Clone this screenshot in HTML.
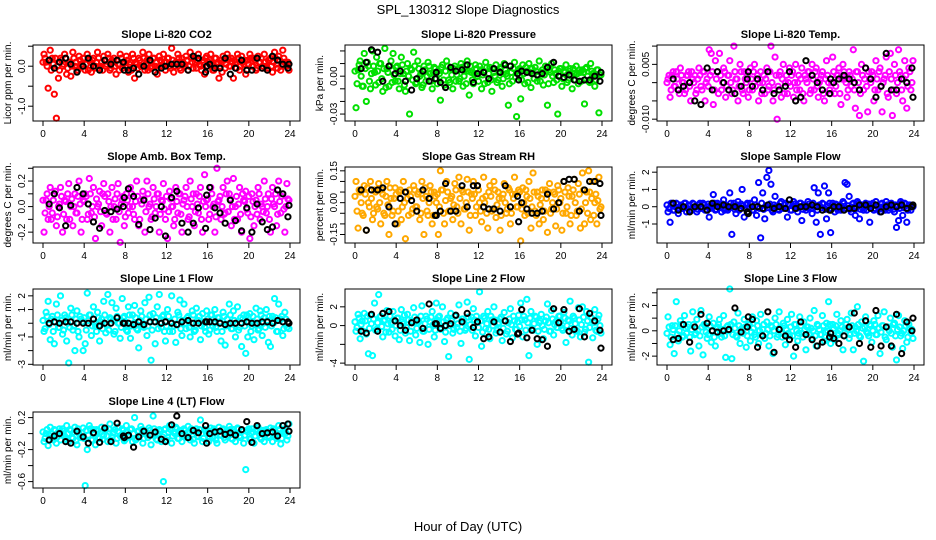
<!DOCTYPE html>
<html><head><meta charset="utf-8"><style>
body{margin:0;background:#fff}
svg{display:block;font-family:"Liberation Sans",sans-serif}
</style></head><body>
<svg id="chart" width="936" height="540" viewBox="0 0 936 540" xmlns="http://www.w3.org/2000/svg">
<rect width="936" height="540" fill="#fff"/>
<text x="468" y="14" text-anchor="middle" font-size="13">SPL_130312  Slope Diagnostics</text>
<text x="468" y="531" text-anchor="middle" font-size="13">Hour of Day (UTC)</text>
</svg>
<script>
const hoursC=[0.1,0.3,0.5,0.7,0.9,1.1,1.3,1.5,1.7,1.9,2.1,2.3,2.5,2.7,2.9,3.1,3.3,3.5,3.7,3.9,4.1,4.3,4.5,4.7,4.9,5.1,5.3,5.5,5.7,5.9,6.1,6.3,6.5,6.7,6.9,7.1,7.3,7.5,7.7,7.9,8.1,8.3,8.5,8.7,8.9,9.1,9.3,9.5,9.7,9.9,10.1,10.3,10.5,10.7,10.9,11.1,11.3,11.5,11.7,11.9,12.1,12.3,12.5,12.7,12.9,13.1,13.3,13.5,13.7,13.9,14.1,14.3,14.5,14.7,14.9,15.1,15.3,15.5,15.7,15.9,16.1,16.3,16.5,16.7,16.9,17.1,17.3,17.5,17.7,17.9,18.1,18.3,18.5,18.7,18.9,19.1,19.3,19.5,19.7,19.9,20.1,20.3,20.5,20.7,20.9,21.1,21.3,21.5,21.7,21.9,22.1,22.3,22.5,22.7,22.9,23.1,23.3,23.5,23.7,23.9];
const hoursC2=[0.0,0.2,0.4,0.6,0.8,1.0,1.2,1.4,1.6,1.8,2.0,2.2,2.4,2.6,2.8,3.0,3.2,3.4,3.6,3.8,4.0,4.2,4.4,4.6,4.8,5.0,5.2,5.4,5.6,5.8,6.0,6.2,6.4,6.6,6.8,7.0,7.2,7.4,7.6,7.8,8.0,8.2,8.4,8.6,8.8,9.0,9.2,9.4,9.6,9.8,10.0,10.2,10.4,10.6,10.8,11.0,11.2,11.4,11.6,11.8,12.0,12.2,12.4,12.6,12.8,13.0,13.2,13.4,13.6,13.8,14.0,14.2,14.4,14.6,14.8,15.0,15.2,15.4,15.6,15.8,16.0,16.2,16.4,16.6,16.8,17.0,17.2,17.4,17.6,17.8,18.0,18.2,18.4,18.6,18.8,19.0,19.2,19.4,19.6,19.8,20.0,20.2,20.4,20.6,20.8,21.0,21.2,21.4,21.6,21.8,22.0,22.2,22.4,22.6,22.8,23.0,23.2,23.4,23.6,23.8];
const hoursK=[0.6,1.1,1.6,2.2,2.7,3.3,3.9,4.4,4.9,5.5,6.0,6.6,7.2,7.8,8.3,8.8,9.3,9.8,10.4,10.9,11.5,11.9,12.5,13.0,13.5,14.1,14.6,15.1,15.8,16.2,16.7,17.2,17.7,18.2,18.7,19.3,19.8,20.3,20.8,21.3,21.8,22.3,22.8,23.3,23.8,23.9,7.9,15.9];
const xTicks=[0,4,8,12,16,20,24];

const co2C=[0.3,0.1,-0.55,0.4,0.2,-0.7,-1.3,-0.3,0.2,0.0, 0.3,-0.2,0.1,-0.25,0.35,0.0,-0.1,0.25,0.05,0.2, -0.1,0.3,0.15,-0.15,0.2,0.0,0.35,-0.05,0.1,0.25, 0.0,0.3,-0.1,0.15,0.2,-0.2,0.05,0.3,-0.05,0.1, 0.25,-0.15,0.1,0.3,-0.3,0.05,0.2,0.0,0.35,-0.1, 0.15,0.3,-0.05,0.2,0.0,-0.2,0.25,0.1,0.3,-0.1, 0.2,0.0,0.45,-0.15,0.1,0.3,-0.05,0.2,0.05,0.25, -0.1,0.35,0.1,0.2,-0.05,0.3,0.0,0.15,-0.2,0.25, 0.1,0.3,-0.1,0.2,0.05,-0.3,0.15,0.25,-0.05,0.3, 0.0,0.2,-0.3,0.1,0.3,-0.1,0.25,0.05,-0.2,0.15, 0.3,0.0,0.2,-0.1,0.25,0.1,-0.05,0.3,0.0,0.15, 0.2,-0.15,0.35,0.05,0.25,-0.1,0.4,0.1,0.0,-0.1];
const co2C2=[0.1,0.2,0.0,0.15,-0.1,0.05,0.2,0.0,-0.1,0.15, 0.05,0.2,-0.05,0.1,0.0,0.2,0.1,-0.1,0.15,0.0, 0.2,0.05,-0.1,0.1,0.15,-0.05,0.1,0.2,0.0,-0.1, 0.15,0.05,0.2,-0.05,0.1,0.0,0.15,-0.1,0.2,0.05, 0.0,0.15,0.05,-0.1,0.2,0.1,-0.05,0.15,0.0,0.2, 0.05,-0.1,0.15,0.0,0.2,0.1,-0.05,0.15,0.0,0.1, 0.1,0.2,-0.05,0.15,0.0,0.1,0.2,-0.1,0.1,0.0, 0.15,0.0,0.2,-0.05,0.1,0.15,0.05,-0.1,0.1,0.2, 0.0,0.15,0.05,-0.1,0.2,0.1,0.0,-0.15,0.15,0.05, 0.2,0.0,0.1,0.15,-0.05,0.2,0.0,0.1,0.15,-0.1, 0.05,0.2,0.0,0.15,-0.05,0.1,0.2,0.0,0.1,-0.05, 0.15,0.0,0.1,0.2,-0.05,0.15,0.0,0.2,0.05,0.1];
const co2K=[0.15,-0.05,0.1,0.2,0.05,-0.15,0.0,0.2,0.0,-0.1,0.15,0.05,0.15,0.1,-0.1,-0.05,-0.2,0.0,0.15,-0.15,-0.05,0.0,0.05,0.05,0.05,-0.1,0.25,0.2,-0.15,0.05,-0.05,-0.05,0.2,-0.2,-0.05,0.15,-0.1,-0.1,0.2,-0.05,-0.1,0.25,0.15,0.05,-0.05,0.05,-0.1,0.0];
const presC=[-0.025,0.005,0.012,-0.008,0.018,-0.02,0.008,-0.01,0.02,0.003, 0.015,-0.005,0.01,-0.012,0.022,0.006,-0.008,0.012,0.018,-0.004, 0.008,-0.01,0.015,0.002,-0.012,0.01,-0.03,0.005,0.019,-0.006, 0.012,0.0,-0.009,0.008,-0.004,0.011,0.002,-0.01,0.007,-0.002, 0.004,-0.019,0.009,-0.007,0.012,-0.003,0.006,-0.01,0.008,0.001, -0.004,0.01,-0.008,0.005,0.012,-0.015,0.003,-0.006,0.009,0.0, 0.008,-0.01,0.004,0.011,-0.005,0.007,-0.012,0.003,0.009,-0.003, 0.006,-0.008,0.01,0.002,-0.023,0.008,-0.004,0.011,-0.032,0.005, -0.018,0.009,-0.006,0.004,0.01,-0.009,0.002,0.007,-0.004,0.012, 0.003,-0.007,0.008,-0.023,0.005,0.01,-0.005,0.002,-0.03,0.006, -0.008,0.004,0.009,-0.003,0.006,-0.01,0.002,0.008,-0.006,0.003, 0.005,-0.022,0.007,-0.004,0.01,0.002,-0.008,0.005,-0.029,0.001];
const presC2=[0.004,-0.006,0.009,0.0,-0.008,0.006,0.011,-0.004,0.002,0.008, -0.007,0.004,0.01,-0.002,0.006,-0.009,0.003,0.008,-0.005,0.001, 0.007,-0.004,0.002,0.009,-0.007,0.004,0.0,0.006,-0.003,0.008, -0.005,0.006,0.002,-0.007,0.005,0.0,0.008,-0.004,0.003,0.006, -0.006,0.002,0.007,-0.003,0.004,0.008,-0.005,0.001,0.006,-0.004, 0.005,-0.002,0.007,0.0,-0.006,0.004,0.008,-0.003,0.002,0.006, -0.004,0.005,0.001,-0.006,0.007,0.002,-0.003,0.006,0.0,-0.005, 0.004,0.007,-0.002,0.005,0.0,-0.006,0.003,0.006,-0.001,0.004, 0.006,-0.003,0.002,0.007,-0.005,0.003,0.006,-0.002,0.004,0.0, -0.004,0.005,0.001,0.006,-0.006,0.003,0.0,0.005,-0.003,0.004, 0.006,-0.002,0.003,-0.005,0.004,0.001,0.006,-0.003,0.002,0.005, -0.004,0.003,0.006,0.0,-0.005,0.004,0.002,-0.003,0.005,0.001];
const presK=[0.006,0.011,0.021,0.019,-0.004,0.008,0.002,0.004,-0.004,-0.011,-0.002,0.004,-0.004,-0.002,-0.005,-0.009,0.007,0.004,0.005,0.009,-0.005,0.002,0.003,-0.002,0.006,0.003,0.009,0.008,0.002,0.004,0.003,0.002,0.001,0.002,0.007,0.011,0.0,-0.001,0.001,-0.003,-0.004,-0.003,-0.003,0.0,-0.004,0.003,0.003,-0.003];
const tempC=[0.001,-0.004,0.002,-0.001,0.003,-0.002,0.004,0.0,-0.003,0.002, 0.003,-0.005,0.001,0.002,-0.002,0.004,-0.001,0.003,-0.005,0.001, 0.009,0.008,-0.006,0.006,0.003,0.008,-0.002,0.004,-0.004,0.002, 0.006,-0.003,0.01,0.001,-0.005,0.005,-0.002,0.003,0.0,-0.004, 0.004,-0.002,0.005,0.001,-0.005,0.003,0.0,-0.003,0.004,-0.001, 0.01,-0.005,0.007,-0.01,0.002,-0.004,0.005,0.0,-0.003,0.004, 0.002,-0.004,0.005,0.0,-0.002,0.004,-0.005,0.001,0.003,-0.003, 0.005,-0.002,0.004,-0.004,0.001,0.003,-0.005,0.006,0.0,-0.003, 0.007,-0.003,0.002,0.004,-0.006,0.005,0.001,-0.004,0.003,-0.001, 0.009,-0.007,0.003,-0.009,0.005,-0.002,0.004,-0.008,0.001,0.003, -0.005,0.006,-0.002,0.004,-0.008,0.001,0.007,-0.004,0.008,-0.009, 0.005,-0.003,0.009,0.002,-0.005,0.006,-0.007,0.004,-0.002,0.006];
const tempC2=[0.0,0.002,-0.002,0.003,-0.001,0.001,-0.003,0.002,0.0,-0.002, 0.002,-0.001,0.003,0.0,-0.003,0.001,0.002,-0.002,0.003,0.0, -0.001,0.002,0.003,-0.002,0.001,-0.003,0.002,0.0,0.003,-0.001, 0.002,0.0,-0.002,0.003,0.001,-0.001,0.003,-0.003,0.001,0.002, -0.002,0.001,0.003,-0.001,0.002,0.0,-0.003,0.002,0.001,-0.002, 0.003,0.0,-0.002,0.002,-0.001,0.003,0.001,-0.003,0.002,0.0, -0.001,0.003,0.0,-0.002,0.002,0.001,-0.003,0.002,0.0,0.003, -0.002,0.001,0.003,-0.001,0.0,0.002,-0.003,0.001,0.002,-0.002, 0.0,0.003,-0.001,0.002,-0.003,0.001,0.003,0.0,-0.002,0.002, 0.001,-0.002,0.003,0.0,-0.003,0.002,0.001,-0.001,0.003,0.0, 0.002,-0.002,0.001,0.003,-0.001,0.0,0.002,-0.003,0.003,0.001, -0.002,0.002,0.0,0.003,-0.002,0.001,0.002,-0.001,0.003,0.0];
const tempK=[0.001,-0.002,-0.001,0.0,-0.005,-0.006,0.004,-0.002,0.003,0.0,-0.002,-0.003,-0.001,0.001,-0.001,0.001,-0.002,0.003,-0.003,-0.002,-0.001,0.003,-0.005,-0.004,0.006,0.002,0.0,-0.002,-0.003,0.0,0.001,0.002,0.001,0.0,-0.002,0.004,0.001,-0.004,-0.001,0.008,-0.002,-0.002,0.001,0.0,0.004,-0.004,0.003,0.001];
const ambC=[-0.2,0.05,-0.1,0.15,-0.05,0.1,-0.15,0.0,0.15,-0.2, 0.05,-0.1,0.18,0.0,-0.15,0.1,-0.05,0.2,-0.2,0.05, 0.1,-0.1,0.22,-0.05,0.15,-0.25,0.0,0.12,-0.15,0.18, -0.05,0.1,-0.2,0.15,0.0,-0.1,0.18,-0.28,0.05,-0.15, 0.1,-0.05,0.15,0.0,-0.1,0.2,-0.15,0.05,0.12,-0.2, 0.2,0.0,-0.1,0.15,-0.05,0.1,-0.2,0.05,0.18,-0.1, -0.25,0.12,0.0,-0.15,0.15,-0.05,0.1,-0.2,0.05,0.15, -0.1,0.2,0.0,-0.15,0.1,-0.05,0.15,-0.2,0.25,0.05, -0.1,0.15,0.0,-0.2,0.3,0.05,-0.1,0.15,-0.05,0.2, 0.1,-0.15,0.22,0.0,-0.1,0.15,-0.2,0.05,0.12,-0.05, -0.25,0.1,-0.15,0.05,0.15,-0.1,0.0,0.2,-0.05,0.1, -0.2,0.15,0.0,-0.15,0.2,-0.05,0.1,-0.2,0.18,0.05];
const ambC2=[0.05,-0.05,0.1,0.0,-0.1,0.05,0.12,-0.08,0.02,0.08, -0.06,0.04,0.1,-0.1,0.06,0.0,-0.05,0.08,0.02,-0.1, 0.04,0.08,-0.06,0.1,0.0,-0.08,0.06,0.02,-0.04,0.1, 0.08,-0.06,0.04,0.0,-0.1,0.06,0.1,-0.04,0.02,0.08, -0.08,0.05,0.0,0.1,-0.06,0.04,0.08,-0.1,0.02,0.06, -0.04,0.1,0.02,-0.08,0.06,0.0,0.1,-0.06,0.04,-0.02, 0.08,-0.04,0.06,0.0,-0.1,0.04,0.1,-0.06,0.02,0.08, 0.0,-0.08,0.06,0.1,-0.04,0.02,0.08,-0.1,0.04,0.0, 0.06,-0.06,0.1,0.02,-0.08,0.04,0.08,0.0,-0.06,0.1, -0.04,0.06,0.0,-0.1,0.08,0.02,-0.06,0.1,0.04,-0.02, 0.08,-0.08,0.04,0.0,-0.06,0.1,0.02,-0.04,0.06,0.0, -0.1,0.06,0.02,0.1,-0.06,0.04,0.08,-0.02,0.0,0.06];
const ambK=[0.02,0.1,-0.01,-0.15,0.01,0.15,0.1,0.02,-0.12,-0.17,-0.03,-0.04,-0.02,0.0,0.14,0.08,-0.14,0.05,-0.18,-0.09,0.0,-0.23,0.07,0.12,-0.13,-0.2,-0.13,-0.01,-0.17,0.15,-0.01,-0.05,-0.13,0.05,-0.11,-0.19,-0.01,-0.2,0.02,-0.12,-0.18,-0.16,0.13,0.1,-0.08,0.01,0.07,0.09];
const rhC=[0.1,-0.12,0.05,-0.05,0.08,-0.13,0.0,0.1,-0.08,0.06, -0.02,0.09,-0.1,0.04,-0.06,0.1,-0.15,0.02,-0.04,0.07, -0.1,0.05,-0.08,0.1,-0.17,0.02,0.06,-0.05,0.08,-0.02, 0.04,-0.08,0.1,-0.15,0.03,-0.06,0.08,-0.1,0.05,0.0, -0.15,0.15,0.06,-0.1,0.1,-0.04,0.02,-0.08,0.09,-0.02, 0.12,-0.1,0.05,-0.03,0.11,-0.13,0.04,0.1,-0.06,0.08, 0.0,-0.09,0.12,0.03,-0.12,0.08,-0.04,0.1,-0.07,0.05, -0.13,0.02,0.09,-0.05,0.07,-0.1,0.04,0.12,-0.02,0.06, -0.18,0.07,-0.06,0.03,0.1,-0.12,0.14,-0.04,0.05,-0.1, 0.02,-0.08,0.06,-0.14,0.09,-0.03,0.05,-0.11,0.08,0.0, -0.13,0.1,-0.05,0.07,-0.1,0.03,0.11,-0.06,0.09,-0.12, 0.14,-0.1,0.05,0.15,-0.08,0.1,0.0,-0.1,0.12,-0.02];
const rhC2=[0.03,-0.04,0.06,0.0,-0.06,0.04,0.07,-0.02,0.02,-0.05, 0.05,-0.03,0.0,0.06,-0.05,0.03,-0.01,0.07,-0.06,0.02, 0.04,-0.04,0.06,-0.02,0.0,0.05,-0.06,0.03,-0.03,0.06, -0.02,0.05,-0.05,0.02,0.07,-0.04,0.0,0.05,-0.06,0.03, 0.04,-0.02,0.06,-0.05,0.01,0.05,-0.04,0.03,-0.01,0.06, -0.05,0.02,0.06,-0.03,0.0,0.05,-0.06,0.02,0.04,-0.02, 0.06,-0.04,0.02,0.0,-0.05,0.05,0.03,-0.03,0.06,-0.01, 0.02,-0.06,0.04,0.0,-0.03,0.06,-0.05,0.02,0.04,-0.02, 0.05,-0.03,0.0,0.06,-0.05,0.02,-0.02,0.05,-0.06,0.03, -0.01,0.06,-0.04,0.02,0.05,-0.05,0.0,0.04,-0.03,0.06, 0.02,-0.05,0.05,-0.02,0.03,-0.06,0.06,0.0,-0.04,0.04, -0.03,0.06,0.0,-0.05,0.05,0.02,-0.06,0.04,0.01,-0.03];
const rhK=[0.06,-0.13,0.06,0.06,0.07,-0.02,-0.1,0.02,0.05,0.01,-0.04,0.06,0.02,-0.06,-0.04,0.09,-0.04,-0.04,0.08,-0.02,0.08,0.08,-0.02,-0.03,-0.03,-0.04,0.08,-0.02,0.03,0.0,-0.03,-0.05,-0.05,-0.04,0.04,-0.03,0.0,0.1,0.11,0.11,-0.04,0.06,0.1,0.1,0.09,-0.06,-0.06,-0.09];
const sfC=[-0.3,-0.9,0.1,-0.2,0.2,-0.4,0.0,-0.1,0.2,-0.3, 0.1,-0.2,0.2,0.0,-0.3,0.1,-0.1,0.2,-0.2,0.0, -0.6,0.1,0.7,-0.2,0.2,0.0,-0.3,0.4,0.1,-0.2, 0.8,-1.6,0.2,-0.4,0.3,-0.1,1.0,-0.6,0.1,-0.3, 0.2,-0.2,0.4,-0.5,1.4,-1.8,0.8,-0.7,1.7,2.1, 1.3,-0.3,0.6,0.0,-0.2,0.3,-0.1,0.2,-0.6,0.1, -0.2,0.3,0.0,-0.3,0.2,-0.8,0.1,-0.2,0.3,0.0, -0.4,1.1,-0.9,0.8,-1.6,0.2,1.2,-0.7,0.8,-1.5, 0.2,-0.3,0.1,0.0,-0.2,0.3,1.4,1.3,0.6,-0.3, 0.2,-0.5,0.3,-0.7,0.1,-0.2,0.2,0.0,-0.9,0.1, -0.2,0.3,0.0,-0.3,0.2,-0.1,0.3,-0.2,0.1,0.0, -0.3,-1.2,-0.8,0.3,-0.5,0.2,-0.9,0.1,-0.2,0.0];
const sfC2=[0.1,-0.1,0.2,-0.2,0.0,0.15,-0.15,0.1,-0.05,0.2, -0.1,0.05,-0.2,0.15,0.0,-0.15,0.2,-0.05,0.1,-0.2, 0.15,-0.1,0.0,0.2,-0.15,0.1,-0.05,0.15,-0.2,0.05, -0.1,0.2,0.0,-0.15,0.1,-0.2,0.15,0.05,-0.1,0.2, -0.05,0.15,-0.2,0.1,0.0,-0.1,0.2,-0.15,0.05,-0.05, 0.15,-0.2,0.1,0.0,-0.15,0.2,-0.05,0.1,-0.1,0.15, -0.2,0.05,0.15,-0.1,0.0,0.2,-0.15,0.1,-0.05,0.15, -0.1,0.2,0.0,-0.2,0.1,-0.05,0.15,-0.15,0.05,0.2, -0.1,0.0,0.15,-0.2,0.1,-0.05,0.2,-0.1,0.05,-0.15, 0.15,0.0,-0.1,0.2,-0.15,0.05,0.1,-0.2,0.15,-0.05, 0.2,-0.1,0.05,-0.15,0.15,0.0,-0.2,0.1,-0.05,0.2, -0.15,0.1,0.0,-0.1,0.2,-0.05,0.15,-0.2,0.1,0.05];
const sfK=[0.2,-0.2,0.0,-0.3,0.0,0.0,-0.2,0.2,0.0,0.1,0.0,0.0,-0.1,-0.3,0.0,0.0,-0.1,0.1,-0.1,0.0,-0.1,0.4,-0.1,0.0,0.0,0.1,0.0,-0.2,-0.2,0.0,0.0,-0.2,-0.1,-0.1,0.1,0.1,-0.1,0.1,-0.3,0.0,0.1,0.0,0.1,-0.1,0.0,0.1,-0.4,-0.2];
const l1C=[-0.6,0.8,1.6,-1.2,0.5,-1.5,1.4,-0.3,2.0,-0.8, 0.6,-1.3,-2.9,1.1,-0.5,-2.0,0.9,-1.0,0.3,-2.0, -1.5,2.2,0.6,-0.9,1.2,-0.2,0.8,-1.3,0.3,1.6, -0.7,2.1,0.4,1.5,-0.8,1.1,0.0,-1.1,1.8,0.5, -0.5,1.2,-1.1,0.6,1.3,-0.4,-1.8,0.9,-0.2,1.5, -0.9,1.9,-2.7,0.7,-1.5,1.2,2.1,-0.3,0.6,-1.3, 1.0,-0.6,2.0,-0.2,-1.4,0.8,1.7,-0.9,1.4,-0.4, 0.5,-1.0,0.9,-0.6,1.1,0.2,-1.2,0.7,-0.3,0.9, -0.8,0.6,-0.2,1.0,-0.6,0.4,-1.3,0.8,-1.6,0.3, 1.4,-0.4,0.9,-1.0,1.2,-0.3,-1.7,0.6,-2.2,-1.0, 0.7,-0.2,-1.2,1.1,-0.5,0.9,-0.9,0.4,1.0,-1.4, -1.7,0.5,1.8,-0.6,1.4,0.3,-0.9,0.8,-0.3,-0.4];
const l1C2=[0.2,-0.4,0.5,-0.1,0.3,-0.6,0.1,0.6,-0.3,0.2, -0.5,0.4,0.0,-0.3,0.6,-0.2,0.3,-0.6,0.5,0.1, 0.4,-0.5,0.2,0.6,-0.2,0.0,-0.6,0.4,0.1,-0.4, 0.6,-0.1,-0.5,0.3,0.2,-0.6,0.5,0.0,-0.3,0.4, 0.1,-0.6,0.6,-0.2,0.0,0.4,-0.5,0.2,0.5,-0.3, 0.3,-0.2,0.6,-0.5,0.1,0.4,-0.4,0.0,0.5,-0.6, -0.2,0.5,0.1,-0.6,0.3,-0.1,0.6,-0.4,0.2,0.0, 0.4,-0.3,0.0,0.6,-0.5,0.2,0.5,-0.2,0.1,-0.6, 0.3,-0.5,0.6,0.0,-0.3,0.4,0.1,-0.6,0.5,-0.2, -0.1,0.6,-0.4,0.2,0.0,-0.5,0.4,0.3,-0.2,0.6, 0.1,-0.6,0.5,-0.1,0.3,-0.4,0.6,0.0,-0.3,0.2, 0.5,-0.2,0.0,0.4,-0.6,0.2,0.5,-0.4,0.3,0.0];
const l1K=[0.0,0.1,0.0,0.1,0.1,0.0,0.0,0.0,0.3,-0.2,0.0,0.0,0.4,0.0,0.0,-0.1,0.1,-0.1,0.1,0.1,0.0,0.1,0.0,-0.1,0.1,0.2,0.0,0.0,0.1,0.1,0.1,0.0,-0.1,0.0,0.0,0.0,0.1,0.0,0.0,0.1,0.1,0.0,0.2,0.1,0.1,0.0,0.0,0.1];
const l2C=[-0.6,1.2,-1.4,0.5,1.3,-0.9,-3.0,1.1,-3.2,2.4, -0.4,3.3,1.0,-1.2,0.6,1.6,-0.7,0.3,1.5,-1.1, 0.8,-1.5,1.7,0.2,-0.8,1.2,-1.6,0.5,1.9,-1.0, 0.3,-1.8,2.1,-0.6,1.0,-2.0,0.4,1.5,-1.2,2.4, 0.9,-0.4,2.0,-1.7,0.6,-3.3,1.3,-0.8,1.0,-0.2, 2.2,-1.9,0.7,-0.5,2.5,-3.6,0.9,1.8,-1.1,0.4, 3.6,-2.2,1.0,-0.3,1.5,-1.4,0.6,2.0,-0.8,0.2, 0.7,-1.6,1.4,-0.9,0.3,1.8,-1.3,0.5,-0.4,1.1, 2.4,-1.2,0.6,2.8,-3.2,1.5,-0.5,1.0,-2.0,0.3, 1.2,-1.4,0.5,2.3,-0.6,1.6,-1.0,0.4,-0.2,1.0, -0.3,1.4,-1.8,0.6,2.6,-1.0,0.8,-0.5,1.9,-1.2, 2.0,-0.7,1.5,-3.9,0.9,-1.3,1.7,-0.6,1.1,-0.8];
const l2C2=[0.4,-0.2,0.8,0.1,-0.6,0.5,1.0,-0.3,0.2,0.7, -0.5,0.3,0.9,-0.1,0.5,-0.7,0.2,1.0,-0.4,0.6, 0.0,0.8,-0.5,0.4,1.1,-0.2,0.6,-0.6,0.3,0.9, -0.3,0.5,1.0,-0.6,0.2,0.7,-0.4,0.9,0.1,-0.5, 0.6,1.0,-0.2,0.4,-0.7,0.8,0.0,0.5,-0.4,1.1, 0.2,-0.6,0.7,0.3,-0.3,0.9,0.1,-0.5,0.6,1.0, -0.2,0.5,-0.7,0.8,0.2,-0.4,1.0,0.0,0.6,-0.5, 0.3,0.9,-0.3,0.5,-0.6,0.7,0.1,1.0,-0.4,0.4, -0.1,0.6,1.0,-0.5,0.3,0.8,-0.3,0.2,0.9,-0.6, 0.5,0.0,-0.4,0.9,0.3,-0.6,0.7,0.1,-0.2,1.0, 0.4,-0.5,0.8,0.0,0.5,-0.3,1.0,0.2,-0.6,0.6, 0.1,0.9,-0.4,0.5,-0.2,0.8,0.3,-0.5,0.7,0.0];
const l2K=[-0.6,-0.8,1.2,-0.6,1.3,1.5,0.5,0.0,-0.5,0.3,0.6,-0.3,2.3,0.2,-0.3,0.0,0.2,1.1,0.4,1.3,-0.2,0.4,-1.4,-1.2,0.4,-0.7,0.5,-1.7,-0.9,1.7,-1.3,-0.5,-1.4,-1.5,-2.2,1.8,0.3,1.7,-0.6,-0.4,1.8,-1.2,1.3,0.5,-0.5,-2.4,0.2,-0.8];
const l3C=[1.1,-1.1,0.4,-1.8,2.3,-0.8,0.8,-0.5,1.2,-0.2, 0.5,-1.6,1.5,-0.3,0.9,-1.2,1.6,-1.9,0.4,-0.6, 1.1,-0.9,0.6,-1.2,0.3,0.9,-0.5,1.2,-2.1,0.4, 3.3,-2.2,0.7,-0.4,1.4,-1.0,0.2,0.9,-1.3,0.5, -0.8,1.1,-0.3,0.8,-1.0,1.3,0.1,-0.6,0.7,-1.2, 0.4,-1.8,1.0,-0.5,1.5,-0.2,0.6,-1.1,0.9,-0.4, 1.3,-2.0,0.5,-0.8,1.1,-0.2,0.7,-1.5,0.3,1.0, -0.6,1.6,-1.2,0.4,-0.3,1.2,-0.8,0.6,2.3,-1.0, 0.5,-0.7,1.3,-0.3,0.8,-1.5,0.2,0.9,-0.6,1.4, -1.5,0.3,1.9,-0.4,0.7,-2.4,1.1,-0.2,0.5,-0.9, 0.8,-0.3,1.2,-1.8,0.4,1.5,-0.7,0.3,1.0,-1.3, 0.6,-2.3,1.2,-0.4,-1.4,0.8,-0.9,0.5,-0.2,-0.6];
const l3C2=[-0.2,0.3,-0.5,0.1,0.4,-0.3,0.0,0.5,-0.4,0.2, 0.3,-0.5,0.1,0.5,-0.2,0.0,-0.4,0.3,0.5,-0.1, -0.3,0.4,0.0,-0.5,0.2,0.5,-0.2,0.1,-0.4,0.3, 0.0,0.5,-0.3,0.2,-0.5,0.4,0.1,-0.2,0.3,-0.4, 0.5,-0.1,0.2,-0.5,0.4,0.0,-0.3,0.5,-0.2,0.1, -0.4,0.3,0.0,0.5,-0.3,0.2,-0.5,0.4,0.1,-0.2, 0.3,-0.4,0.5,0.0,-0.2,0.4,-0.5,0.1,0.3,-0.3, 0.2,0.0,-0.4,0.5,0.1,-0.3,0.4,-0.1,0.0,0.5, -0.5,0.2,0.4,-0.2,0.0,0.3,-0.4,0.5,0.1,-0.3, 0.4,-0.2,0.0,0.5,-0.5,0.2,0.3,-0.1,-0.4,0.4, 0.0,0.5,-0.3,0.2,-0.1,0.4,-0.5,0.3,0.0,-0.2, 0.5,-0.4,0.1,0.3,-0.2,0.0,0.4,-0.5,0.2,0.1];
const l3K=[-0.7,-0.6,0.5,-0.9,0.3,1.3,0.6,0.0,-0.1,0.0,0.1,1.8,-0.1,0.3,0.9,-1.3,-0.4,1.5,-1.7,0.1,-0.4,-0.7,-1.3,0.7,-0.3,-0.7,-1.2,-0.9,-0.5,-0.6,-1.0,-0.4,0.3,1.4,-1.0,0.8,-1.3,1.6,-1.2,0.3,-1.2,1.3,-1.8,0.7,0.0,1.0,1.1,-0.2];
const l4C=[-0.1,0.0,-0.15,0.08,-0.05,0.05,-0.12,0.02,-0.08,0.06, -0.03,0.1,-0.1,0.04,-0.06,0.08,-0.14,0.0,-0.05,0.07, -0.65,-0.2,0.1,-0.08,0.05,-0.14,0.03,-0.06,0.08,-0.02, 0.05,-0.1,0.12,-0.05,0.02,-0.12,0.08,-0.03,0.06,-0.09, 0.1,-0.04,0.05,-0.1,0.2,-0.06,0.03,0.09,-0.12,0.04, -0.02,0.07,-0.14,0.22,0.0,-0.08,0.05,-0.1,-0.6,0.06, -0.05,0.1,-0.12,0.02,0.08,-0.06,0.04,-0.1,0.06,-0.02, 0.09,-0.08,0.03,-0.12,0.06,-0.04,0.17,-0.1,0.05,0.0, -0.1,0.07,-0.05,0.04,-0.12,0.08,-0.02,0.06,-0.08,0.03, 0.09,-0.06,0.05,-0.1,0.07,-0.03,0.04,-0.12,-0.45,0.02, -0.07,0.06,-0.12,0.03,0.08,-0.05,0.02,-0.1,0.05,-0.03, 0.07,-0.1,0.04,-0.06,0.1,-0.13,0.02,0.06,-0.08,0.12];
const l4C2=[0.02,-0.06,0.05,-0.02,0.0,-0.08,0.04,-0.04,0.06,-0.01, 0.03,-0.07,0.0,0.05,-0.05,0.02,-0.09,0.06,-0.03,0.01, -0.06,0.04,-0.02,0.06,-0.08,0.0,0.05,-0.05,0.02,-0.07, 0.03,-0.03,0.06,-0.08,0.01,0.05,-0.06,0.02,-0.02,0.04, -0.07,0.02,-0.04,0.06,0.0,-0.08,0.03,-0.03,0.05,-0.06, 0.01,-0.05,0.04,-0.02,0.06,-0.07,0.0,0.03,-0.04,0.05, -0.08,0.02,0.05,-0.03,0.0,0.06,-0.06,0.03,-0.02,0.04, -0.05,0.01,0.06,-0.07,0.02,-0.03,0.05,0.0,-0.06,0.03, 0.04,-0.04,0.0,0.06,-0.08,0.02,-0.02,0.05,-0.05,0.01, -0.03,0.05,-0.07,0.02,0.0,0.06,-0.05,0.03,-0.02,0.04, 0.06,-0.06,0.02,-0.03,0.05,0.0,-0.07,0.04,-0.01,0.03, -0.05,0.02,0.06,-0.04,0.0,0.05,-0.06,0.03,0.01,-0.03];
const l4K=[-0.08,-0.03,0.0,-0.1,-0.12,0.03,-0.04,-0.12,0.01,-0.11,0.07,-0.1,0.13,-0.03,-0.02,-0.17,-0.04,0.03,-0.02,0.02,-0.07,-0.1,0.11,0.22,0.0,-0.05,0.04,0.01,0.1,0.0,0.02,0.03,-0.01,0.01,-0.02,0.05,0.15,-0.11,0.1,0.0,0.01,0.02,-0.03,0.1,0.12,0.03,-0.05,-0.12];

const panels=[
 {name:'co2',title:'Slope Li-820 CO2',ylab:'Licor ppm per min.',col:0,row:0,color:'#ff0000',c:co2C,c2:co2C2,k:co2K,ylim:[-1.37,0.53],ticks:[-1,-0.5,0,0.5],labels:['-1.0','','0.0','']},
 {name:'pressure',title:'Slope Li-820 Pressure',ylab:'kPa per min.',col:1,row:0,color:'#00e000',c:presC,c2:presC2,k:presK,ylim:[-0.0355,0.0247],ticks:[-0.03,-0.02,-0.01,0,0.01,0.02],labels:['-0.03','','','0.00','','']},
 {name:'temp',title:'Slope Li-820 Temp.',ylab:'degrees C per min.',col:2,row:0,color:'#ff00ff',c:tempC,c2:tempC2,k:tempK,ylim:[-0.0105,0.0103],ticks:[-0.01,-0.005,0,0.005,0.01],labels:['-0.010','','','0.005','']},
 {name:'amb-temp',title:'Slope Amb. Box Temp.',ylab:'degrees C per min.',col:0,row:1,color:'#ff00ff',c:ambC,c2:ambC2,k:ambK,ylim:[-0.285,0.31],ticks:[-0.2,-0.1,0,0.1,0.2,0.3],labels:['-0.2','','0.0','','0.2','']},
 {name:'gas-rh',title:'Slope Gas Stream RH',ylab:'percent per min.',col:1,row:1,color:'#ffa800',c:rhC,c2:rhC2,k:rhK,ylim:[-0.19,0.168],ticks:[-0.15,-0.1,-0.05,0,0.05,0.1,0.15],labels:['-0.15','','','0.00','','','0.15']},
 {name:'sample-flow',title:'Slope Sample Flow',ylab:'ml/min per min.',col:2,row:1,color:'#0000ff',c:sfC,c2:sfC2,k:sfK,ylim:[-2.1,2.3],ticks:[-1,0,1,2],labels:['-1','0','1','2']},
 {name:'line1',title:'Slope Line 1 Flow',ylab:'ml/min per min.',col:0,row:2,color:'#00ffff',c:l1C,c2:l1C2,k:l1K,ylim:[-3.05,2.5],ticks:[-3,-2,-1,0,1,2],labels:['-3','','-1','','1','2']},
 {name:'line2',title:'Slope Line 2 Flow',ylab:'ml/min per min.',col:1,row:2,color:'#00ffff',c:l2C,c2:l2C2,k:l2K,ylim:[-4.2,3.9],ticks:[-4,-2,0,2],labels:['-4','','0','2']},
 {name:'line3',title:'Slope Line 3 Flow',ylab:'ml/min per min.',col:2,row:2,color:'#00ffff',c:l3C,c2:l3C2,k:l3K,ylim:[-2.7,3.3],ticks:[-2,-1,0,1,2,3],labels:['-2','','0','','2','']},
 {name:'line4',title:'Slope Line 4 (LT) Flow',ylab:'ml/min per min.',col:0,row:3,color:'#00ffff',c:l4C,c2:l4C2,k:l4K,ylim:[-0.68,0.27],ticks:[-0.6,-0.4,-0.2,0,0.2],labels:['-0.6','','-0.2','','0.2']}
];
const NS='http://www.w3.org/2000/svg';
const svg=document.getElementById('chart');
const colLeft=[33,345,657], rowTop=[45,167,289,412], W=267, H=76;
function mk(tag,attrs,parent){const e=document.createElementNS(NS,tag);for(const a in attrs)e.setAttribute(a,attrs[a]);parent.appendChild(e);return e;}
panels.forEach(p=>{
 const L=colLeft[p.col], T=rowTop[p.row], B=T+H, R=L+W;
 const g=mk('g',{},svg);
 
 
 const xs=h=>L+10+h*(W-20)/24;
 const ys=v=>B-(v-p.ylim[0])/(p.ylim[1]-p.ylim[0])*H;
 const t=mk('text',{x:(L+R)/2,y:T-7,'text-anchor':'middle','font-size':'11','font-weight':'bold'},g);
 t.textContent=p.title;
 
 
 const yl=mk('text',{x:L-22,y:(T+B)/2,'text-anchor':'middle','font-size':'10',transform:`rotate(-90 ${L-22} ${(T+B)/2})`},g);
 yl.textContent=p.ylab;
 
 
 const pts=mk('g',{fill:'none','stroke-width':'2'},g);
 
 
 p.c2.forEach((v,i)=>{const c=mk('circle',{cx:xs(hoursC2[i]),cy:ys(v),r:2.6,stroke:p.color},pts);
  
  });
 p.c.forEach((v,i)=>{const c=mk('circle',{cx:xs(hoursC[i]),cy:ys(v),r:2.6,stroke:p.color},pts);
  
  });
 p.k.forEach((v,i)=>{const c=mk('circle',{cx:xs(hoursK[i]),cy:ys(v),r:2.6,stroke:'#000'},pts);
  
  });
 const box=mk('rect',{x:L,y:T,width:W,height:H,fill:'none',stroke:'#000','stroke-width':'1'},g);
 
 
 xTicks.forEach(h=>{const x=xs(h);mk('line',{x1:x,x2:x,y1:B,y2:B+5,stroke:'#000'},g);
  const tl=mk('text',{x:x,y:B+16,'text-anchor':'middle','font-size':'10'},g);tl.textContent=h;
  
  });
 p.ticks.forEach((v,i)=>{const y=ys(v);mk('line',{x1:L-5,x2:L,y1:y,y2:y,stroke:'#000'},g);
  if(p.labels[i]){const tl=mk('text',{x:L-8,y:y,'text-anchor':'middle','font-size':'10',transform:`rotate(-90 ${L-8} ${y})`},g);tl.textContent=p.labels[i];
  
  }});
});
</script>
</body></html>
